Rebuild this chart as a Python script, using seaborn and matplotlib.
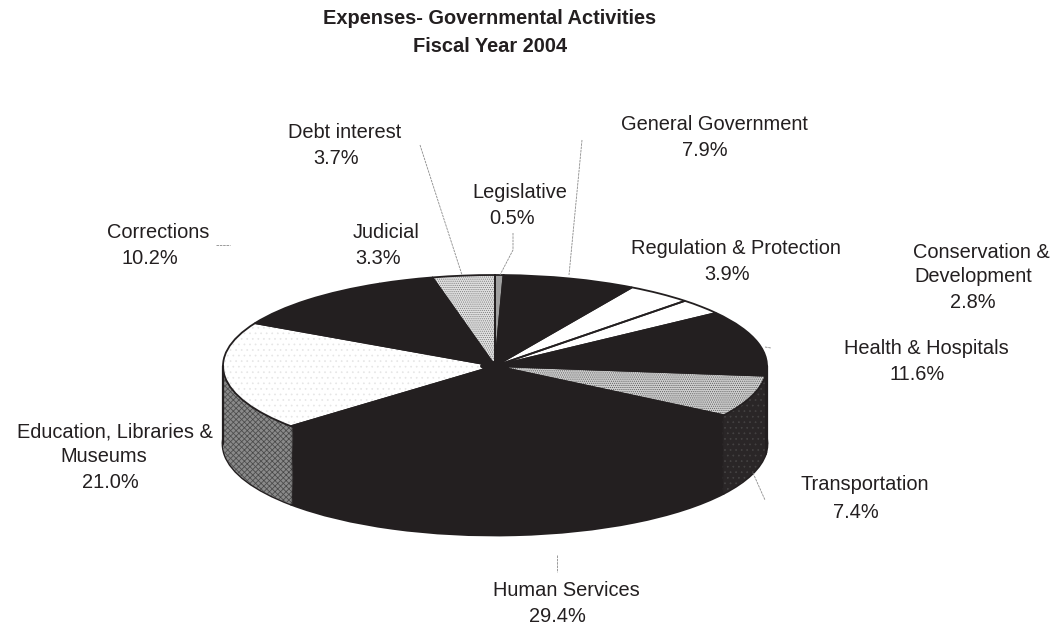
"""3D-look pie of governmental expenses, FY2004, built from stacked seaborn-themed pies."""
import matplotlib
matplotlib.use('Agg')
import matplotlib.pyplot as plt
import seaborn as sns

W, H = 1063, 626
INK = '#231f20'

sectors = ['Legislative', 'General Government', 'Regulation & Protection',
           'Conservation & Development', 'Health & Hospitals', 'Transportation',
           'Human Services', 'Education, Libraries & Museums', 'Corrections',
           'Judicial', 'Debt interest']
# printed percentages (they add up to 101.7)
printed = ['0.5%', '7.9%', '3.9%', '2.8%', '11.6%', '7.4%', '29.4%', '21.0%', '10.2%', '3.3%', '3.7%']
# shares as the wedges are actually drawn in the picture
drawn = [0.5, 7.9, 3.9, 2.8, 11.6, 7.4, 29.4, 19.3, 10.2, 3.3, 3.7]

top_colors = ['#a0a0a0', INK, '#ffffff', '#ffffff', INK, '#cfcfcf',
              INK, '#ffffff', INK, INK, '#e0e0e0']
top_hatch = [None, None, None, None, None, '........',
             None, '...', None, None, '........']
top_hatch_colors = ['none', 'none', 'none', 'none', 'none', '#5a5a5a',
                    'none', '#e6e6e6', 'none', 'none', '#7a7a7a']
side_colors = [INK, INK, INK, INK, INK, '#2a2627',
               INK, '#8a8a8a', INK, INK, INK]
side_hatch = [None, None, None, None, None, '...',
              None, 'xxxxxx', None, None, None]
side_hatch_colors = [INK, INK, INK, INK, INK, '#4c4a4a',
                     INK, '#3c3c3c', INK, INK, INK]

sns.set_theme(style='white')
plt.rcParams['font.family'] = ['Liberation Sans', 'DejaVu Sans']
plt.rcParams['hatch.linewidth'] = 0.5

fig = plt.figure(figsize=(W / 100, H / 100), dpi=100, facecolor='white')


def pie_layer(y=0.0, radius=1.0, **kw):
    wedges, _ = ax.pie(drawn, startangle=90, counterclock=False, center=(0, y),
                       radius=radius, **kw)
    return wedges


# pie axes: box is the extent of the cylinder in pixels
left, right, top, bottom = 223, 767, 275, 535
ax = fig.add_axes([left / W, 1 - bottom / H, (right - left) / W, (bottom - top) / H])
ry = 91
depth = 78 / ry
n_layers = 80

# wall: pies stacked from the bottom up, outline only on the lowest
for k in range(n_layers, 0, -1):
    y = -depth * k / n_layers
    if k == n_layers:
        pie_layer(y, colors=[INK] * len(drawn),
                  wedgeprops={'linewidth': 2.0, 'edgecolor': INK})
    for w, c, h, hc in zip(pie_layer(y, colors=side_colors), side_colors, side_hatch, side_hatch_colors):
        w.set(facecolor=c, edgecolor=hc, hatch=h, linewidth=0)

# top face: fill, texture, outline
pie_layer(colors=top_colors, wedgeprops={'linewidth': 0})
for w, h, hc in zip(pie_layer(colors=top_colors), top_hatch, top_hatch_colors):
    w.set(facecolor='none', edgecolor=hc, hatch=h, linewidth=0)
for w in pie_layer(colors=top_colors):
    w.set(facecolor='none', edgecolor=INK, linewidth=1.3)
# the slices run together in a dark blot around the centre
pie_layer(radius=0.055, colors=[INK] * len(drawn), wedgeprops={'linewidth': 0})

ax.set_aspect('auto')
ax.set_xlim(-1, 1)
ax.set_ylim(-1 - depth, 1)
ax.axis('off')
# wall edges of the cylinder
ax.plot([-1, -1], [0, -depth], color=INK, lw=1.6, clip_on=False)
ax.plot([1, 1], [0, -depth], color=INK, lw=1.6, clip_on=False)

# overlay in pixel coords for text and leader lines
ov = fig.add_axes([0, 0, 1, 1], facecolor='none')
ov.set_xlim(0, W)
ov.set_ylim(H, 0)
ov.axis('off')

leaders = [[(420, 145), (462, 275)], [(513, 233), (513, 250), (500, 275)],
           [(582, 140), (569, 275)], [(216, 245), (230, 245)],
           [(557, 555), (557, 572)], [(753, 473), (765, 500)],
           [(765, 347), (771, 348)]]
for pts in leaders:
    ov.plot(*zip(*pts), color='#8a8a8a', lw=0.6, ls=(0, (3, 1)))

FS = 14.4
ov.text(490, 19, 'Expenses- Governmental Activities', ha='center', va='center',
        fontsize=FS, fontweight='bold', color=INK)
ov.text(490, 47, 'Fiscal Year 2004', ha='center', va='center',
        fontsize=FS, fontweight='bold', color=INK)

# label lines as set in the reference: text lines first, the figure last
label_lines = {
    'Legislative': ['Legislative'],
    'General Government': ['General Government'],
    'Regulation & Protection': ['Regulation & Protection'],
    'Conservation & Development': ['Conservation &', 'Development'],
    'Health & Hospitals': ['Health & Hospitals'],
    'Transportation': ['Transportation'],
    'Human Services': ['Human Services'],
    'Education, Libraries & Museums': ['Education, Libraries &', 'Museums'],
    'Corrections': ['Corrections'],
    'Judicial': ['Judicial'],
    'Debt interest': ['Debt interest'],
}
line_pos = {
    'Legislative': [(520, 193), (512, 219)],
    'General Government': [(714, 125), (705, 151)],
    'Regulation & Protection': [(736, 249), (727, 274)],
    'Conservation & Development': [(981, 252), (973, 277), (973, 302)],
    'Health & Hospitals': [(926, 348), (917, 374)],
    'Transportation': [(865, 485), (856, 512)],
    'Human Services': [(566, 590), (557, 616)],
    'Education, Libraries & Museums': [(115, 432), (104, 457), (110, 483)],
    'Corrections': [(158, 232), (150, 258)],
    'Judicial': [(386, 232), (378, 258)],
    'Debt interest': [(345, 133), (336, 159)],
}
for name, pct in zip(sectors, printed):
    for s, (x, y) in zip(label_lines[name] + [pct], line_pos[name]):
        ov.text(x, y, s, ha='center', va='center', fontsize=FS, color=INK)

fig.savefig('out.png', dpi=100)
